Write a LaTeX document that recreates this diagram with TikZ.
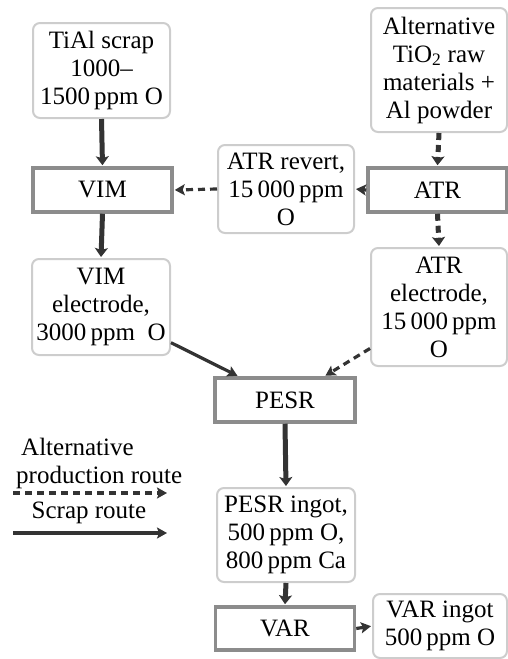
\documentclass[tikz,border=0pt]{standalone}
\usepackage{fontspec}
\setmainfont{Liberation Serif}
\usetikzlibrary{arrows.meta}
\definecolor{boxgray}{HTML}{CDCDCD}
\definecolor{procgray}{HTML}{8C8C8C}
\definecolor{arrowc}{HTML}{333333}
\begin{document}
\begin{tikzpicture}[x=1pt,y=-1pt,
  every node/.style={font=\fontsize{25}{28}\selectfont, align=center, inner sep=0pt, text=black},
  matbox/.style={draw=boxgray, line width=2pt, rounded corners=7pt, fill=white},
  procbox/.style={draw=procgray, line width=3.5pt, fill=white},
  thickflow/.style={draw=arrowc, line width=5pt, -{Stealth[length=9pt,width=13pt,inset=2pt]}, shorten >=1pt},
  thinflow/.style={draw=arrowc, line width=3.2pt, -{Stealth[length=10pt,width=11pt,inset=2pt]}, shorten >=1pt},
  altdash/.style={dash pattern=on 7pt off 5pt}
]
\useasboundingbox (0,0) rectangle (508,659);
% material boxes
\node[matbox, minimum width=137pt, minimum height=95pt] (tial) at (101.5,70.5) {TiAl scrap\\1000--\\1500\,ppm O};
\node[matbox, minimum width=136pt, minimum height=124pt] (alt) at (439,70) {Alternative\\TiO\textsubscript{2} raw\\materials +\\Al powder};
\node[matbox, minimum width=136pt, minimum height=88pt] (atrrev) at (286,189) {ATR revert,\\15\,000\,ppm\\O};
\node[matbox, minimum width=138pt, minimum height=96pt] (vimel) at (101,307) {VIM\\electrode,\\3000\,ppm\ \ O};
\node[matbox, minimum width=136pt, minimum height=118pt] (atrel) at (439,307) {ATR\\electrode,\\15\,000\,ppm\\O};
\node[matbox, minimum width=138pt, minimum height=94pt] (pingot) at (286,535) {PESR ingot,\\500\,ppm O,\\800\,ppm Ca};
\node[matbox, minimum width=134pt, minimum height=64pt] (vingot) at (440,626) {VAR ingot\\500\,ppm O};
% process boxes
\node[procbox, minimum width=139pt, minimum height=44pt] (vim) at (102.5,190) {VIM};
\node[procbox, minimum width=139pt, minimum height=44pt] (atr) at (437.5,190) {ATR};
\node[procbox, minimum width=140pt, minimum height=44pt] (pesr) at (285,400) {PESR};
\node[procbox, minimum width=139pt, minimum height=43pt] (var) at (285,628.5) {VAR};
% connectors
\draw[thickflow] (tial.south) -- (vim.north);
\draw[thickflow] (vim.south) -- (vimel.north);
\draw[thickflow, altdash] (alt.south) -- (atr.north);
\draw[thickflow, altdash] (atr.south) -- (atrel.north);
\draw[thinflow, altdash] (atrrev.west) -- (vim.east);
\draw[thinflow] (atr.west) -- (atrrev.east);
\draw[thinflow] (vimel.-27) -- (pesr.153);
\draw[thinflow, altdash] (atrel.211) -- (pesr.31);
\draw[thickflow] (pesr.south) -- (pingot.north);
\draw[thickflow] (pingot.south) -- (var.north);
\draw[thinflow] (var.east) -- (vingot.west);
% legend
\coordinate (l1s) at (13,493);
\coordinate (l1e) at (168,493);
\coordinate (l2s) at (13,533);
\coordinate (l2e) at (168,533);
\node[anchor=base west] (lt1) at (21,455) {Alternative};
\node[anchor=base west] (lt2) at (16,483) {production route};
\node[anchor=base] (lt3) at (89,518) {Scrap route};
\draw[thinflow, altdash] (l1s) -- (l1e);
\draw[thinflow] (l2s) -- (l2e);
\end{tikzpicture}
\end{document}
